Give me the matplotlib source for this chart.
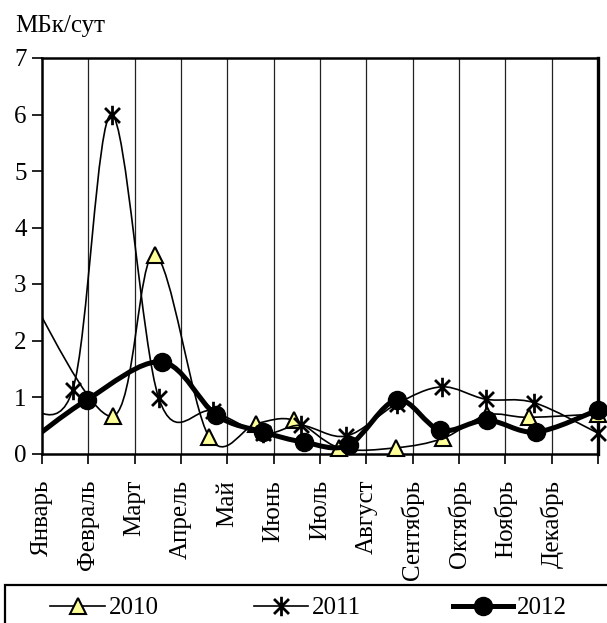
import numpy as np
import matplotlib
matplotlib.use("Agg")
import matplotlib.pyplot as plt
from matplotlib import font_manager as fm
from matplotlib.path import Path
from matplotlib.patches import PathPatch, Rectangle
from matplotlib.lines import Line2D

FAMILY = "Liberation Serif"
FSIZE = 18
plt.rcParams["font.family"] = "serif"
plt.rcParams["font.serif"] = [FAMILY, "Tinos", "DejaVu Serif"]
fm.fontManager.ttflist  # make sure the font list is loaded

months = ["Январь", "Февраль", "Март", "Апрель", "Май", "Июнь", "Июль",
          "Август", "Сентябрь", "Октябрь", "Ноябрь", "Декабрь"]
y_ticks = [0, 1, 2, 3, 4, 5, 6, 7]
unit_label = "МБк/сут"

# sampling dates in month units (0 = start of January), values in MBq/day
x_2010 = [-0.4, 1.53, 2.43, 3.60, 4.62, 5.44, 6.42, 7.63, 8.66, 9.60, 10.50, 12.0]
y_2010 = [3.00, 0.66, 3.52, 0.30, 0.53, 0.59, 0.10, 0.10, 0.27, 0.68, 0.64, 0.70]

x_2011 = [-0.5, 0.66, 1.50, 2.52, 3.68, 4.76, 5.58, 6.57, 7.66, 8.63, 9.58, 10.62, 12.0]
y_2011 = [0.90, 1.12, 6.00, 0.98, 0.75, 0.36, 0.50, 0.31, 0.88, 1.18, 0.96, 0.90, 0.36]

x_2012 = [-0.45, 0.97, 2.59, 3.76, 4.78, 5.66, 6.62, 7.66, 8.60, 9.60, 10.66, 12.0]
y_2012 = [0.10, 0.95, 1.62, 0.68, 0.38, 0.20, 0.15, 0.95, 0.41, 0.59, 0.38, 0.77]


def smooth_path(xs, ys):
    """Cubic Bezier path through the points (Catmull-Rom style smoothing)."""
    p = np.column_stack([xs, ys]).astype(float)
    n = len(p)
    verts = [p[0]]
    codes = [Path.MOVETO]
    for i in range(n - 1):
        p_prev = p[i - 1] if i > 0 else p[i]
        p_next2 = p[i + 2] if i + 2 < n else p[i + 1]
        c1 = p[i] + (p[i + 1] - p_prev) / 6.0
        c2 = p[i + 1] - (p_next2 - p[i]) / 6.0
        verts += [c1, c2, p[i + 1]]
        codes += [Path.CURVE4] * 3
    return Path(verts, codes)


# star marker: X with a vertical stroke
star = Path([(-1, -1), (1, 1), (-1, 1), (1, -1), (0, -1.3), (0, 1.3)],
            [Path.MOVETO, Path.LINETO, Path.MOVETO, Path.LINETO, Path.MOVETO, Path.LINETO])

fig = plt.figure(figsize=(6.07, 6.23), dpi=100)
ax = fig.add_axes([42 / 607, 1 - 453.5 / 623, 556 / 607, 395.5 / 623])

series = [
    (x_2010, y_2010, "2010", 1.2, dict(marker="^", markersize=11, markerfacecolor="#FFFF99",
                                      markeredgecolor="black", markeredgewidth=1.5)),
    (x_2011, y_2011, "2011", 1.2, dict(marker=star, markersize=14, markerfacecolor="none",
                                      markeredgecolor="black", markeredgewidth=2.0)),
    (x_2012, y_2012, "2012", 3.6, dict(marker="o", markersize=13, markerfacecolor="black",
                                      markeredgecolor="black", markeredgewidth=1.0)),
]

z = 3
for xs, ys, name, lw, mk in series:
    ax.add_patch(PathPatch(smooth_path(xs, ys), facecolor="none", edgecolor="black",
                           lw=lw, zorder=z, capstyle="round", joinstyle="round"))
    xa = np.array(xs)
    ya = np.array(ys)
    inside = (xa >= 0) & (xa <= 12)
    ax.plot(xa[inside], ya[inside], ls="none", zorder=z + 0.5, clip_on=False, **mk)
    z += 1

ax.set_xlim(0, 12)
ax.set_ylim(0, 7)
ax.set_xticks(range(0, 13))
ax.set_xticklabels(months + [""], rotation=90, ha="center", va="top",
                   family=FAMILY, size=FSIZE)
ax.set_yticks(y_ticks)
ax.set_yticklabels([str(v) for v in y_ticks], family=FAMILY, size=FSIZE)
ax.tick_params(axis="x", direction="out", length=7, width=1.2, pad=12)
ax.tick_params(axis="y", direction="out", length=7, width=1.2, pad=4)
for gx in range(1, 12):
    ax.axvline(gx, color="#222222", lw=0.9, zorder=1)
for s in ax.spines.values():
    s.set_linewidth(1.8)
    s.set_color("black")
ax.spines["right"].set_linewidth(2.4)

fig.text(15 / 607, 1 - 26 / 623, unit_label, ha="left", va="center",
         family=FAMILY, size=FSIZE)

# legend: frame running off the lower right corner, entries placed by hand
fig.patches.append(Rectangle((5 / 607, -0.1), 1.2, (623 - 585) / 623 + 0.1,
                             transform=fig.transFigure, fill=False, lw=1.6,
                             edgecolor="black"))
legend_y = 1 - 606 / 623
handle_spans = [(50, 105), (254, 308), (453, 513)]
for (x0, x1), (_, _, name, lw, mk) in zip(handle_spans, series):
    fig.add_artist(Line2D([x0 / 607, x1 / 607], [legend_y, legend_y], color="black",
                          lw=lw, transform=fig.transFigure))
    fig.add_artist(Line2D([(x0 + x1) / 2 / 607], [legend_y], ls="none",
                          transform=fig.transFigure, **mk))
    fig.text((x1 + 4) / 607, legend_y, name, ha="left", va="center_baseline",
             family=FAMILY, size=FSIZE)

fig.savefig("out.png", dpi=100)
